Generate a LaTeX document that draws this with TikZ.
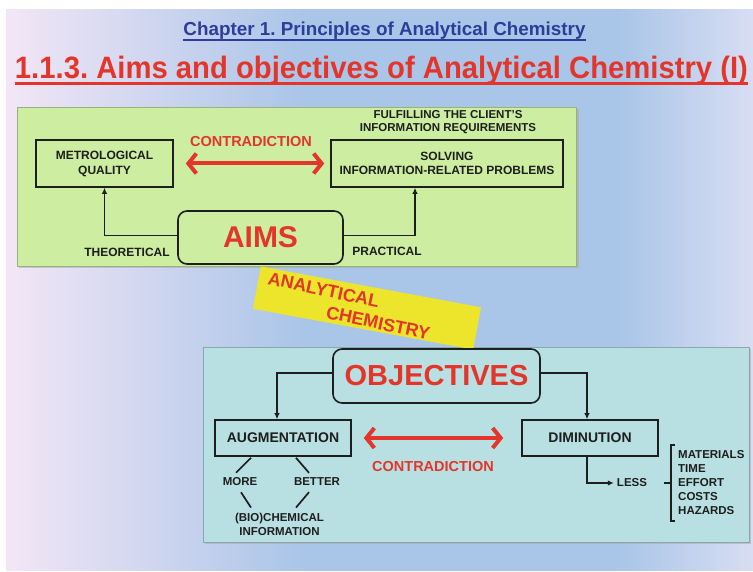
\documentclass[tikz,border=0pt]{standalone}
\usepackage{fontspec}
\setmainfont{Liberation Sans}
\usepackage{graphicx}
\usetikzlibrary{calc,arrows.meta,positioning}
\definecolor{slidered}{HTML}{E4352A}
\definecolor{titleblue}{HTML}{2E3D9B}
\definecolor{aimgreen}{HTML}{CDEEA1}
\definecolor{objblue}{HTML}{B8E0E2}
\definecolor{bandyellow}{HTML}{EDE52B}
\definecolor{inkgray}{HTML}{1E1E1E}
\definecolor{bgpink}{HTML}{F3E6F6}
\definecolor{bgblue}{HTML}{A9C5E8}
\definecolor{bglav}{HTML}{D8DDF3}
\pgfdeclarehorizontalshading{slidebg}{100bp}{color(0bp)=(bgpink);
  color(25bp)=(bgpink); color(45bp)=(bgblue); color(66bp)=(bgblue);
  color(75bp)=(bglav); color(100bp)=(bglav)}
\frenchspacing

\begin{document}
\begin{tikzpicture}[x=1pt,y=-1pt,
    txt/.style={inner sep=1pt, align=center, text=inkgray,
      font=\fontsize{11.5}{13.5}\selectfont\bfseries},
    plainbox/.style={draw=inkgray, line width=1.6pt, align=center,
      inner sep=0pt, text=inkgray},
    redlbl/.style={inner sep=1pt, text=slidered,
      font=\fontsize{14.5}{16}\selectfont\bfseries},
    link/.style={draw=inkgray, line width=1.6pt,
      -{Latex[length=6pt,width=5.5pt]}},
    contra/.style={draw=slidered, line width=4pt,
      {Straight Barb[length=8pt,width=20pt]}-{Straight Barb[length=8pt,width=20pt]}},
    stroke/.style={draw=inkgray, line width=1.7pt}]
  \useasboundingbox (0,0) rectangle (753,572);
  % Slide background
  \fill[white] (0,0) rectangle (753,572);
  \shade[shading=slidebg] (6,10) rectangle (753,570);

  % Titles
  \node[text=titleblue, inner sep=0pt, anchor=base] (chapter) at (384.5,36)
    {\resizebox{402pt}{13.6pt}{\bfseries Chapter 1. Principles of Analytical Chemistry}};
  \draw[titleblue, line width=2pt]
    ([yshift=-4pt]chapter.base west) -- ([yshift=-4pt]chapter.base east);
  \node[text=slidered, inner sep=0pt, anchor=base] (title) at (381.5,79)
    {\resizebox{733pt}{22.4pt}{\bfseries 1.1.3. Aims and objectives of Analytical Chemistry (I)}};
  \draw[slidered, line width=3pt]
    ([yshift=-4.5pt]title.base west) -- ([yshift=-4.5pt]title.base east);

  % Panels
  \fill[black!35, opacity=.5] (19,109) rectangle (579,268);
  \filldraw[fill=aimgreen, draw=aimgreen!75!black, line width=.6pt] (17,107) rectangle (576,266);
  \fill[black!35, opacity=.5] (205,349) rectangle (751,544);
  \filldraw[fill=objblue, draw=objblue!75!black, line width=.6pt] (203,347) rectangle (749,542);
  \fill[bandyellow, rotate around={-10.5:(367,308)}] (255,286.5) rectangle (479,329.5);
  \node[text=slidered, inner sep=0pt, rotate=-12, align=left,
    font=\fontsize{18}{21}\selectfont\bfseries] (band) at (349,306)
    {ANALYTICAL\\\hspace*{64pt}CHEMISTRY};

  % Aims
  \node[plainbox, minimum width=137pt, minimum height=47pt,
    font=\fontsize{12}{15}\selectfont\bfseries] (metro) at (104.5,163.5)
    {METROLOGICAL\\QUALITY};
  \node[plainbox, minimum width=232pt, minimum height=47pt,
    font=\fontsize{12}{14.5}\selectfont\bfseries] (solving) at (447,163.5)
    {SOLVING\\INFORMATION-RELATED PROBLEMS};
  \node[txt, font=\fontsize{11.5}{13}\selectfont\bfseries] (client) at (448,122.5)
    {FULFILLING THE CLIENT'S\\INFORMATION REQUIREMENTS};
  \node[plainbox, rounded corners=9pt, minimum width=165pt, minimum height=53pt,
    text=slidered, font=\fontsize{30}{30}\selectfont\bfseries] (aims) at (260.5,237.5) {AIMS};
  \node[txt, font=\fontsize{12}{14}\selectfont\bfseries] (theo) at (127,252) {THEORETICAL};
  \node[txt, font=\fontsize{12}{14}\selectfont\bfseries] (pract) at (387,251) {PRACTICAL};
  \node[redlbl] (contraA) at (251,142) {CONTRADICTION};
  \draw[link] ([yshift=2pt]aims.west) -| (metro.south);
  \draw[link] ([yshift=2pt]aims.east) -| ([xshift=-32pt]solving.south);
  \draw[contra, shorten <=12pt, shorten >=6pt] (metro.east) -- (solving.west);

  % Objectives
  \node[plainbox, rounded corners=9pt, minimum width=207pt, minimum height=54pt,
    text=slidered, font=\fontsize{29}{29}\selectfont\bfseries] (objectives) at (436.5,376) {OBJECTIVES};
  \node[plainbox, minimum width=136pt, minimum height=36pt,
    font=\fontsize{14}{16}\selectfont\bfseries] (aug) at (283,438) {AUGMENTATION};
  \node[plainbox, minimum width=136pt, minimum height=36pt,
    font=\fontsize{14}{16}\selectfont\bfseries] (dimin) at (590,438) {DIMINUTION};
  \node[redlbl] (contraB) at (433,467) {CONTRADICTION};
  \draw[link] ([yshift=3pt]objectives.west) -| ([xshift=-6pt]aug.north);
  \draw[link] ([yshift=3pt]objectives.east) -| ([xshift=-3pt]dimin.north);
  \draw[contra, shorten <=12pt, shorten >=18pt] (aug.east) -- (dimin.west);

  % Augmentation branch
  \node[txt] (more) at (240,482) {MORE};
  \node[txt] (better) at (317,482) {BETTER};
  \node[txt, font=\fontsize{11.5}{14}\selectfont\bfseries] (bio) at (279.5,524)
    {(BIO)CHEMICAL\\INFORMATION};
  \draw[stroke] ($(aug.south)+(-32,1)$) -- ($(more.north)+(-4,-4)$);
  \draw[stroke] ($(aug.south)+(13,1)$) -- ($(better.north)+(-8,-4)$);
  \draw[stroke] ($(more.south)+(1,5)$) -- ($(bio.north)+(-28.5,-4)$);
  \draw[stroke] ($(better.south)+(-8,5)$) -- ($(bio.north)+(16.5,-4)$);

  % Diminution branch
  \node[txt] (less) at (632,483) {LESS};
  \node[txt, align=left, anchor=west, inner sep=0pt,
    font=\fontsize{11.5}{14}\selectfont\bfseries] (list) at (678,483)
    {MATERIALS\\TIME\\EFFORT\\COSTS\\HAZARDS};
  \draw[link, shorten >=2pt] ([xshift=-3pt]dimin.south) |- (less.west);
  \draw[stroke] ($(list.west)+(-3,-38)$) -- ++(-4,0) -- ++(0,76) -- ++(4,0);
  \draw[stroke] ($(list.west)+(-7,0)$) -- ++(-7,0);
\end{tikzpicture}
\end{document}
